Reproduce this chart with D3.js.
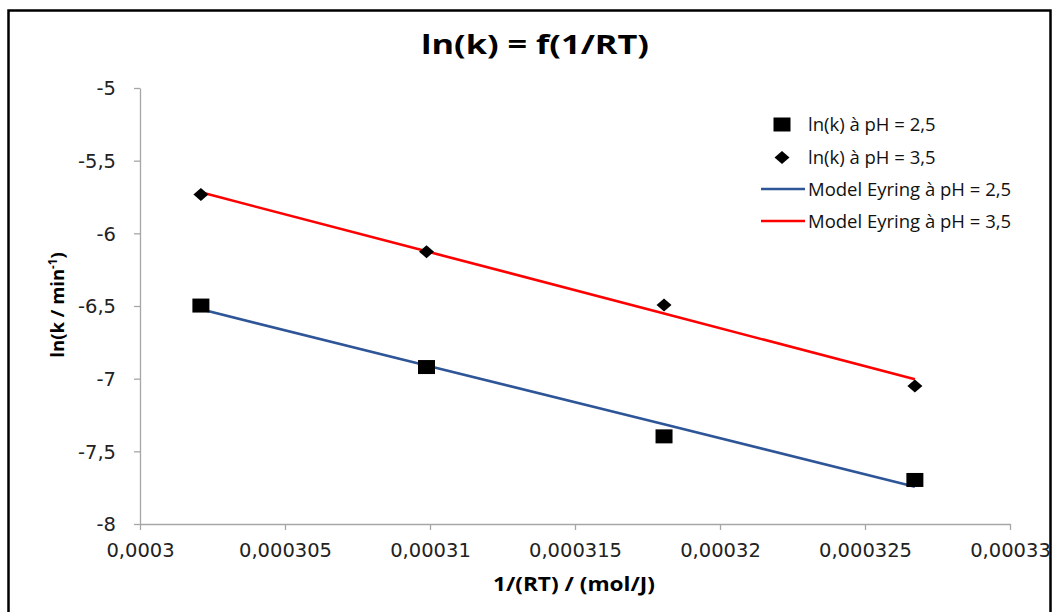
<!DOCTYPE html>
<html>
<head>
<meta charset="utf-8">
<script src="https://cdn.jsdelivr.net/npm/d3@7/dist/d3.min.js"></script>
<style>
  html, body { margin: 0; padding: 0; background: #fff; }
  svg { display: block; }
</style>
</head>
<body>
<script>
// ---- data ----
const xValues = [0.0003021, 0.00030988, 0.00031807, 0.00032672];
const lnkPH25 = [-6.497, -6.92, -7.397, -7.697];
const lnkPH35 = [-5.733, -6.126, -6.493, -7.05];
const modelPH25 = [-6.523, -6.909, -7.314, -7.743];
const modelPH35 = [-5.718, -6.124, -6.552, -7.004];
const xTicks = [0.0003, 0.000305, 0.00031, 0.000315, 0.00032, 0.000325, 0.00033];
const xTickLabels = ["0,0003", "0,000305", "0,00031", "0,000315", "0,00032", "0,000325", "0,00033"];
const yTicks = [-8, -7.5, -7, -6.5, -6, -5.5, -5];
const yTickLabels = ["-8", "-7,5", "-7", "-6,5", "-6", "-5,5", "-5"];
const legendLabels = ["ln(k) à pH = 2,5", "ln(k) à pH = 3,5", "Model Eyring à pH = 2,5", "Model Eyring à pH = 3,5"];
const titleText = "ln(k) = f(1/RT)";
const xTitle = "1/(RT) / (mol/J)";

const W = 1057, H = 612;
const svg = d3.select("body").append("svg").attr("width", W).attr("height", H);

// frame
svg.append("rect").attr("x", 8.5).attr("y", 10.5).attr("width", 1042).attr("height", 620)
  .attr("fill", "#fff").attr("stroke", "#000").attr("stroke-width", 2.5);

const x = d3.scaleLinear().domain([0.0003, 0.00033]).range([140, 1010]);
const y = d3.scaleLinear().domain([-8, -5]).range([524, 88]);
const axisColor = "#a6a6a6";
const tickFont = "'DejaVu Sans', Verdana, sans-serif";

// x axis
const xAxis = svg.append("g").attr("transform", `translate(0,${y(-8)})`)
  .call(d3.axisBottom(x).tickValues(xTicks).tickSize(6).tickSizeOuter(0)
    .tickFormat((d, i) => xTickLabels[i]));
xAxis.select(".domain").attr("stroke", axisColor).attr("stroke-width", 1.3);
xAxis.selectAll(".tick line").attr("stroke", axisColor).attr("stroke-width", 1.3);
xAxis.selectAll(".tick text").attr("font-family", tickFont).attr("font-size", 19.5)
  .attr("fill", "#222").attr("y", 19).attr("dy", "0.71em");

// y axis
const yAxis = svg.append("g").attr("transform", `translate(${x(0.0003)},0)`)
  .call(d3.axisLeft(y).tickValues(yTicks).tickSize(6).tickSizeOuter(0)
    .tickFormat((d, i) => yTickLabels[i]));
yAxis.select(".domain").attr("stroke", axisColor).attr("stroke-width", 1.3);
yAxis.selectAll(".tick line").attr("stroke", axisColor).attr("stroke-width", 1.3);
yAxis.selectAll(".tick text").attr("font-family", tickFont).attr("font-size", 19.5)
  .attr("fill", "#222").attr("x", -24).attr("dy", "0.35em");

// model lines
const line = d3.line().x(d => x(d[0])).y(d => y(d[1]));
svg.append("path").datum(xValues.map((v, i) => [v, modelPH25[i]]))
  .attr("d", line).attr("fill", "none").attr("stroke", "#2d5597").attr("stroke-width", 2.6);
svg.append("path").datum(xValues.map((v, i) => [v, modelPH35[i]]))
  .attr("d", line).attr("fill", "none").attr("stroke", "#ff0000").attr("stroke-width", 2.6);

// markers
const sq = "M-8.5,-7 h17 v14 h-17 Z";
const dia = "M0,-6.5 L7.5,0 L0,6.5 L-7.5,0 Z";
svg.append("g").selectAll("path").data(xValues.map((v, i) => [v, lnkPH25[i]])).join("path")
  .attr("d", sq).attr("transform", d => `translate(${x(d[0])},${y(d[1])})`).attr("fill", "#000");
svg.append("g").selectAll("path").data(xValues.map((v, i) => [v, lnkPH35[i]])).join("path")
  .attr("d", dia).attr("transform", d => `translate(${x(d[0])},${y(d[1])})`).attr("fill", "#000");

// legend
const legFont = "'Open Sans', sans-serif";
const lg = svg.append("g");
const rows = [124.5, 157.5, 189, 221];
lg.append("path").attr("d", sq).attr("transform", `translate(782,${rows[0]})`).attr("fill", "#000");
lg.append("path").attr("d", dia).attr("transform", `translate(782,${rows[1]})`).attr("fill", "#000");
lg.append("line").attr("x1", 761).attr("x2", 805).attr("y1", rows[2]).attr("y2", rows[2])
  .attr("stroke", "#2d5597").attr("stroke-width", 2.6);
lg.append("line").attr("x1", 761).attr("x2", 805).attr("y1", rows[3]).attr("y2", rows[3])
  .attr("stroke", "#ff0000").attr("stroke-width", 2.6);
lg.selectAll("text").data(legendLabels).join("text")
  .attr("x", 808).attr("y", (d, i) => rows[i]).attr("dy", "0.36em")
  .attr("font-family", legFont).attr("font-size", 18.5).attr("fill", "#111").text(d => d);

// title
svg.append("text").attr("x", 535).attr("y", 54).attr("text-anchor", "middle")
  .attr("font-family", legFont).attr("font-weight", "bold").attr("font-size", 27)
  .attr("textLength", 228).attr("lengthAdjust", "spacingAndGlyphs")
  .attr("fill", "#000").text(titleText);

// x title
svg.append("text").attr("x", 574).attr("y", 591).attr("text-anchor", "middle")
  .attr("font-family", legFont).attr("font-weight", "bold").attr("font-size", 19.5)
  .attr("textLength", 162).attr("lengthAdjust", "spacingAndGlyphs")
  .attr("fill", "#000").text(xTitle);

// y title
const yt = svg.append("text").attr("transform", "translate(64,305) rotate(-90)")
  .attr("text-anchor", "middle").attr("font-family", legFont).attr("font-weight", "bold")
  .attr("font-size", 18.5).attr("fill", "#000");
yt.append("tspan").text("ln(k / min");
yt.append("tspan").attr("font-size", 11.5).attr("dy", -7).text("-1");
yt.append("tspan").attr("dy", 7).text(")");
</script>
</body>
</html>
